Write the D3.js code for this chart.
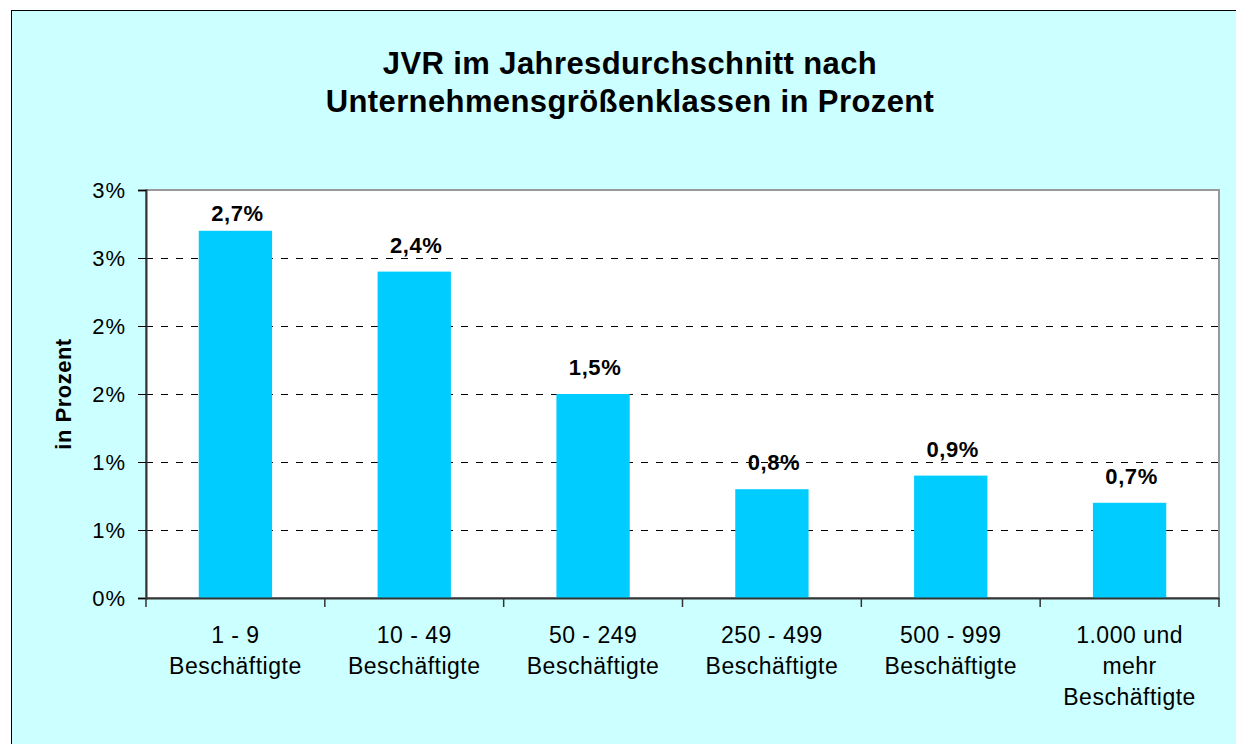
<!DOCTYPE html>
<html>
<head>
<meta charset="utf-8">
<script src="https://cdn.jsdelivr.net/npm/d3@7"></script>
<style>
  body { margin: 0; background: #fff; }
  text { font-family: "Liberation Sans", Arial, sans-serif; }
</style>
</head>
<body>
<svg id="chart" width="1236" height="744"></svg>
<script>
// data
const categories = [
  ["1 - 9", "Beschäftigte"],
  ["10 - 49", "Beschäftigte"],
  ["50 - 249", "Beschäftigte"],
  ["250 - 499", "Beschäftigte"],
  ["500 - 999", "Beschäftigte"],
  ["1.000 und", "mehr", "Beschäftigte"]
];
const values = [2.7, 2.4, 1.5, 0.8, 0.9, 0.7];
const valueLabels = ["2,7%", "2,4%", "1,5%", "0,8%", "0,9%", "0,7%"];
const yTicks = [0, 0.5, 1, 1.5, 2, 2.5, 3];
const yTickLabels = ["0%", "1%", "1%", "2%", "2%", "3%", "3%"];
const titleLines = ["JVR im Jahresdurchschnitt nach", "Unternehmensgrößenklassen in Prozent"];

const svg = d3.select('#chart');

// outer chart area
svg.append('rect')
  .attr('x', 11.5).attr('y', 10.5)
  .attr('width', 1240).attr('height', 740)
  .style('fill', '#ccffff')
  .style('stroke', '#000')
  .style('stroke-width', 1);

const plot = { left: 146, top: 190, right: 1219, bottom: 598 };

const xScale = d3.scaleBand()
  .domain(d3.range(categories.length))
  .range([plot.left, plot.right])
  .padding(0);

const yScale = d3.scaleLinear()
  .domain([0, 3])
  .range([plot.bottom, plot.top]);

// plot background
svg.append('rect')
  .attr('x', plot.left).attr('y', plot.top)
  .attr('width', plot.right - plot.left)
  .attr('height', plot.bottom - plot.top)
  .style('fill', '#fff')
  .style('stroke', '#999')
  .style('stroke-width', 2);

// dashed gridlines
svg.append('g').selectAll('line')
  .data(yTicks.filter(d => d > 0 && d < 3))
  .enter().append('line')
  .attr('x1', plot.left).attr('x2', plot.right)
  .attr('y1', d => yScale(d) + 0.5).attr('y2', d => yScale(d) + 0.5)
  .style('stroke', '#000')
  .style('stroke-width', 1)
  .style('stroke-dasharray', '7,8');

// bars
const barW = xScale.bandwidth() * 0.41;
svg.append('g').selectAll('.bar')
  .data(values)
  .enter().append('rect')
  .attr('class', 'bar')
  .attr('x', (d, i) => xScale(i) + (xScale.bandwidth() - barW) / 2)
  .attr('y', d => yScale(d))
  .attr('width', barW)
  .attr('height', d => plot.bottom - yScale(d))
  .style('fill', '#00ccff');

// value labels
svg.append('g').selectAll('text')
  .data(values)
  .enter().append('text')
  .attr('x', (d, i) => xScale(i) + xScale.bandwidth() / 2 + 2)
  .attr('y', d => Math.max(yScale(d) - 19, plot.top + 31))
  .attr('text-anchor', 'middle')
  .style('font-size', '22px')
  .style('font-weight', 'bold')
  .style('letter-spacing', '0.6px')
  .text((d, i) => valueLabels[i]);

// y axis
const yAxis = svg.append('g')
  .attr('transform', `translate(${plot.left},0)`)
  .call(d3.axisLeft(yScale)
    .tickValues(yTicks)
    .tickFormat((d, i) => yTickLabels[i])
    .tickSize(8)
    .tickPadding(12));
yAxis.select('.domain').style('stroke', '#333').style('stroke-width', 2);
yAxis.selectAll('.tick line').style('stroke', '#000');
yAxis.selectAll('.tick text')
  .style('font-size', '22px')
  .style('letter-spacing', '1px')
  .attr('fill', '#000');

// x axis
const xAxis = svg.append('g')
  .attr('transform', `translate(0,${plot.bottom})`)
  .call(d3.axisBottom(xScale).tickSize(0).tickFormat(''));
xAxis.select('.domain').style('stroke', '#333').style('stroke-width', 2);
xAxis.selectAll('.tick').remove();

// x tick marks at category boundaries
svg.append('g').selectAll('line')
  .data(d3.range(categories.length + 1))
  .enter().append('line')
  .attr('x1', i => i < categories.length ? xScale(i) : plot.right)
  .attr('x2', i => i < categories.length ? xScale(i) : plot.right)
  .attr('y1', plot.bottom).attr('y2', plot.bottom + 9)
  .style('stroke', '#333')
  .style('stroke-width', 1.5);

// category labels
const catG = svg.append('g').selectAll('text')
  .data(categories)
  .enter().append('text')
  .attr('x', (d, i) => xScale(i) + xScale.bandwidth() / 2)
  .attr('y', plot.bottom + 45)
  .attr('text-anchor', 'middle')
  .style('font-size', '23px')
  .style('letter-spacing', '0.5px');
catG.selectAll('tspan')
  .data(d => d)
  .enter().append('tspan')
  .attr('x', function () { return d3.select(this.parentNode).attr('x'); })
  .attr('dy', (d, i) => i === 0 ? 0 : 31)
  .text(d => d);

// y axis title
svg.append('text')
  .attr('transform', `translate(71,${(plot.top + plot.bottom) / 2}) rotate(-90)`)
  .attr('text-anchor', 'middle')
  .style('font-size', '22px')
  .style('font-weight', 'bold')
  .style('letter-spacing', '0.5px')
  .text('in Prozent');

// title
svg.append('g').selectAll('text')
  .data(titleLines)
  .enter().append('text')
  .attr('x', 630)
  .attr('y', (d, i) => 74 + i * 38)
  .attr('text-anchor', 'middle')
  .style('font-size', '31px')
  .style('font-weight', 'bold')
  .style('letter-spacing', '0.4px')
  .text(d => d);
</script>
</body>
</html>
